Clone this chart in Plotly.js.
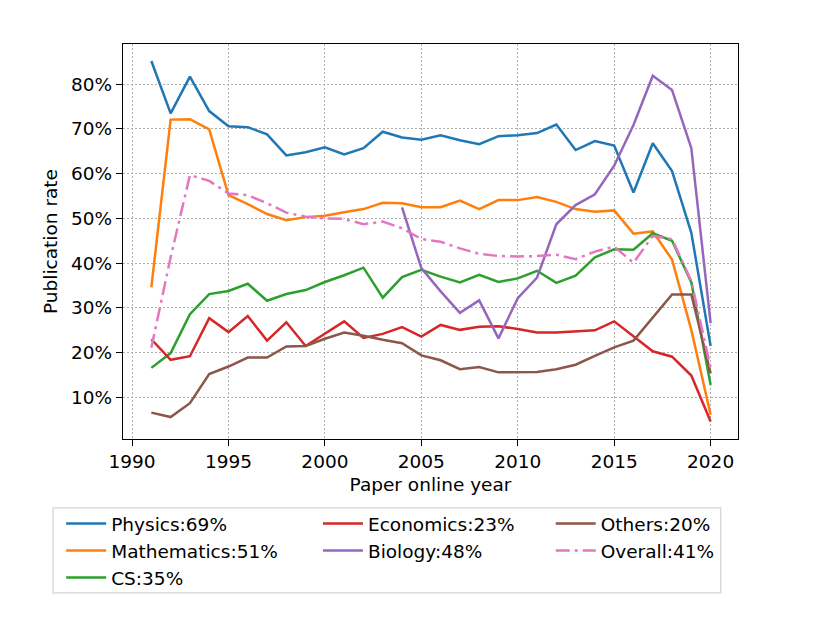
<!DOCTYPE html>
<html>
<head>
<meta charset="utf-8">
<script src="https://cdn.plot.ly/plotly-3.0.1.min.js"></script>
<style>
  html, body { margin: 0; padding: 0; background: #fff; }
  #chart { width: 830px; height: 642px; }
</style>
</head>
<body>
<div id="chart"></div>
<script>
// paper online years
var years = [];
for (var y = 1991; y <= 2020; y++) years.push(y);

// publication rate per field, in percent
var physics = [85.2, 73.5, 81.7, 74.0, 70.6, 70.4, 68.8, 64.1, 64.8, 65.9,
               64.3, 65.7, 69.4, 68.1, 67.6, 68.6, 67.5, 66.6, 68.4, 68.6,
               69.1, 71.0, 65.3, 67.3, 66.3, 55.8, 66.8, 60.6, 46.8, 21.5];
var mathematics = [34.6, 72.1, 72.2, 69.9, 55.2, 53.2, 51.0, 49.6, 50.3, 50.6,
                   51.4, 52.1, 53.5, 53.4, 52.5, 52.5, 54.0, 52.1, 54.1, 54.1,
                   54.8, 53.7, 52.1, 51.5, 51.8, 46.6, 47.1, 40.8, 25.1, 6.1];
var cs = [16.6, 19.9, 28.6, 33.1, 33.8, 35.4, 31.6, 33.1, 34.0, 35.8,
          37.3, 39.0, 32.3, 36.9, 38.5, 37.0, 35.7, 37.4, 35.8, 36.6,
          38.3, 35.6, 37.2, 41.3, 43.1, 43.0, 46.7, 45.0, 35.7, 12.8];
var economics = [23.0, 18.4, 19.2, 27.7, 24.6, 28.2, 22.7, 26.8, 21.5, 24.2,
                 27.0, 23.3, 24.2, 25.7, 23.6, 26.2, 25.1, 25.8, 25.9, 25.3,
                 24.5, 24.5, 24.8, 25.0, 27.0, 23.6, 20.3, 19.1, 14.9, 4.6];
// biology only starts in 2004
var biology = [null, null, null, null, null, null, null, null, null, null,
               null, null, null, 52.5, 38.9, 33.7, 28.9, 31.7, 23.2, 32.2,
               36.8, 48.7, 53.0, 55.4, 61.8, 70.9, 81.9, 78.7, 65.7, 26.6];
var others = [6.6, 5.6, 8.7, 15.2, 16.9, 18.9, 18.9, 21.4, 21.5, 23.1,
              24.5, 23.8, 22.9, 22.1, 19.4, 18.3, 16.3, 16.8, 15.6, 15.7,
              15.7, 16.3, 17.3, 19.3, 21.2, 22.7, 27.9, 33.0, 33.0, 15.4];
var overall = [21.1, 41.3, 59.7, 58.4, 55.6, 55.2, 53.4, 51.3, 50.4, 50.0,
               49.9, 48.7, 49.3, 47.8, 45.4, 44.8, 43.3, 42.1, 41.6, 41.5,
               41.6, 41.9, 40.9, 42.6, 43.7, 40.1, 46.1, 45.4, 36.0, 16.6];

var names = ['Physics:69%', 'Mathematics:51%', 'CS:35%', 'Economics:23%',
             'Biology:48%', 'Others:20%', 'Overall:41%'];
var series = [physics, mathematics, cs, economics, biology, others, overall];
var colors = ['#1f77b4', '#ff7f0e', '#2ca02c', '#d62728', '#9467bd', '#8c564b', '#e377c2'];
var legendOf = ['legend', 'legend', 'legend', 'legend2', 'legend2', 'legend3', 'legend3'];

var xTicks = [1990, 1995, 2000, 2005, 2010, 2015, 2020];
var yTicks = [10, 20, 30, 40, 50, 60, 70, 80];
var yTickText = ['10%', '20%', '30%', '40%', '50%', '60%', '70%', '80%'];

var data = [];
for (var i = 0; i < series.length; i++) {
  data.push({
    x: years,
    y: series[i],
    name: names[i],
    type: 'scatter',
    mode: 'lines',
    legend: legendOf[i],
    line: {
      color: colors[i],
      width: 2.5,
      dash: i === 6 ? '14px,5px,3px,5px' : 'solid'
    },
    hoverinfo: 'x+y+name'
  });
}

var font = {family: 'DejaVu Sans', size: 18.5, color: '#000'};

var axisBase = {
  showline: true,
  mirror: true,
  linecolor: '#000',
  linewidth: 1.3,
  ticks: 'outside',
  ticklen: 6,
  tickwidth: 1.3,
  tickcolor: '#000',
  showgrid: true,
  gridcolor: '#b0b0b0',
  gridwidth: 1.2,
  griddash: '1.5px,2.5px',
  zeroline: false,
  tickfont: font
};

var legendBase = {
  font: font,
  bgcolor: 'rgba(0,0,0,0)',
  borderwidth: 0,
  orientation: 'v',
  xanchor: 'left',
  yanchor: 'top',
  y: -0.167,
  itemwidth: 40,
  tracegroupgap: 0
};

var layout = {
  width: 830,
  height: 642,
  margin: {l: 123, r: 92, t: 44, b: 203},
  paper_bgcolor: '#fff',
  plot_bgcolor: '#fff',
  font: font,
  showlegend: true,
  xaxis: Object.assign({}, axisBase, {
    range: [1989.53, 2021.42],
    tickvals: xTicks,
    title: {text: 'Paper online year', font: font, standoff: 6}
  }),
  yaxis: Object.assign({}, axisBase, {
    range: [0.7, 89.0],
    tickvals: yTicks,
    ticktext: yTickText,
    title: {text: 'Publication rate', font: font, standoff: 8}
  }),
  legend: Object.assign({}, legendBase, {x: -0.1005}),
  legend2: Object.assign({}, legendBase, {x: 0.317}),
  legend3: Object.assign({}, legendBase, {x: 0.6955}),
  shapes: [{
    type: 'rect', xref: 'paper', yref: 'paper',
    x0: -0.1137, x1: 0.9719, y0: -0.3896, y1: -0.1746,
    line: {color: '#d5d5d5', width: 1.3},
    fillcolor: 'rgba(0,0,0,0)'
  }]
};

Plotly.newPlot('chart', data, layout, {displayModeBar: false});
</script>
</body>
</html>
